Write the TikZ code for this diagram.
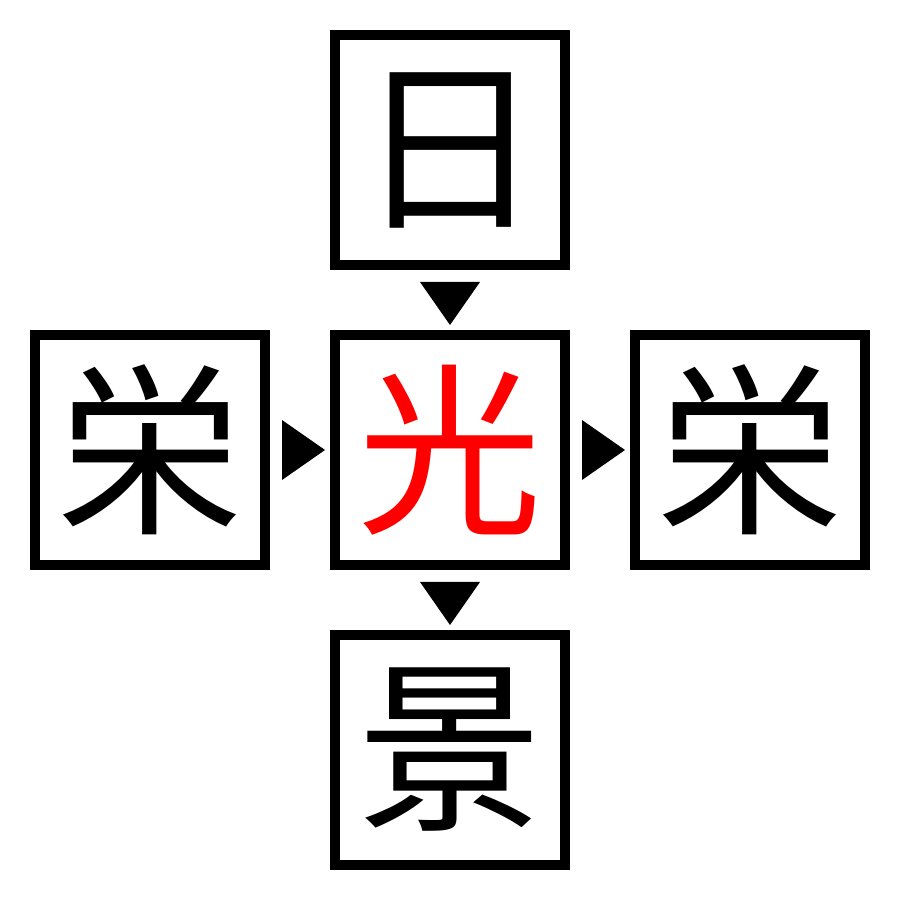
\documentclass[tikz,border=0pt]{standalone}
\usepackage{fontspec}
\newfontfamily\cjk{Noto Sans CJK JP}
\usetikzlibrary{calc,positioning}
\tikzstyle{box}=[rectangle, draw=black, minimum size=230pt, line width=10pt, inner sep=0pt, font=\cjk\fontsize{185}{185}\selectfont]
\tikzstyle{tri}=[fill=black]
\definecolor{mred}{HTML}{FF0000}

\begin{document}
\begin{tikzpicture}[x=1pt, y=1pt]
    \useasboundingbox (0,0) rectangle (900,900);

    \node[box] at (450,450) (c) {\textcolor{mred}{光}};
    \node[box] at (450,750) (t) {日};
    \node[box] at (450,150) (b) {景};
    \node[box] at (150,450) (l) {栄};
    \node[box] at (750,450) (r) {栄};

    \fill[tri] ($(t.south)+(-30,-12)$) -- ++(60,0) -- ++(-30,-43) -- cycle;
    \fill[tri] ($(c.south)+(-30,-12)$) -- ++(60,0) -- ++(-30,-43) -- cycle;
    \fill[tri] ($(l.east)+(12,30)$) -- ++(0,-60) -- ++(43,30) -- cycle;
    \fill[tri] ($(c.east)+(12,30)$) -- ++(0,-60) -- ++(43,30) -- cycle;

\end{tikzpicture}
\end{document}
